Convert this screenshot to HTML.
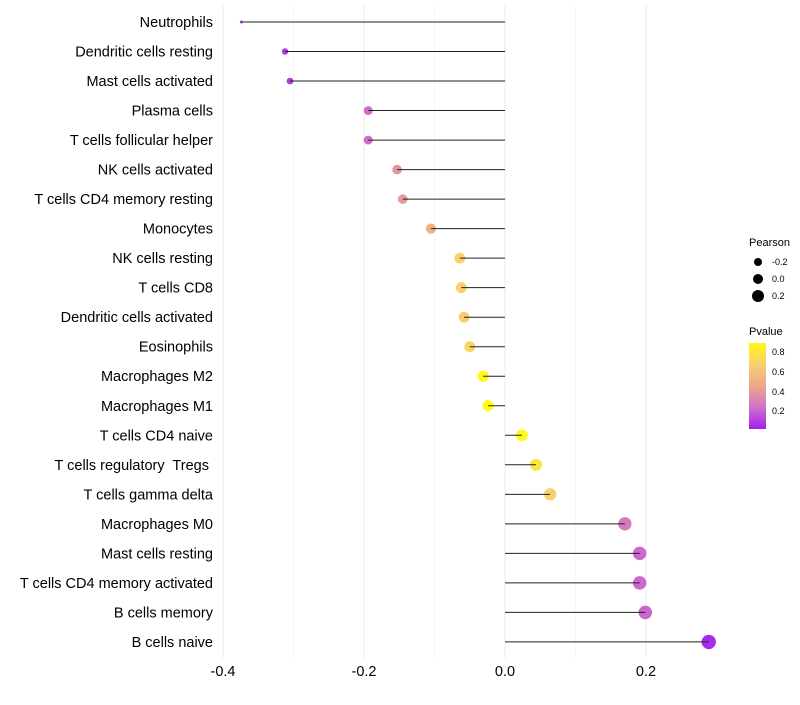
<!DOCTYPE html>
<html><head><meta charset="utf-8"><style>
body{margin:0;background:#fff;font-family:"Liberation Sans",sans-serif}
text{white-space:pre}
</style></head><body>
<svg id="chart" width="800" height="700" xmlns="http://www.w3.org/2000/svg">
<g id="grid"></g><g id="marks"></g><g id="labels"></g><g id="legend"></g>
</svg>
<script>
const categories=["Neutrophils","Dendritic cells resting","Mast cells activated","Plasma cells","T cells follicular helper","NK cells activated","T cells CD4 memory resting","Monocytes","NK cells resting","T cells CD8","Dendritic cells activated","Eosinophils","Macrophages M2","Macrophages M1","T cells CD4 naive","T cells regulatory  Tregs ","T cells gamma delta","Macrophages M0","Mast cells resting","T cells CD4 memory activated","B cells memory","B cells naive"];
const pearson=[-0.374,-0.312,-0.305,-0.194,-0.194,-0.153,-0.145,-0.105,-0.064,-0.062,-0.058,-0.050,-0.031,-0.024,0.024,0.044,0.064,0.170,0.191,0.191,0.199,0.289];
const pvalue=[0.08,0.1,0.1,0.24,0.24,0.38,0.4,0.52,0.68,0.68,0.66,0.7,0.88,0.92,0.9,0.78,0.68,0.28,0.22,0.22,0.22,0.06];
const xTicks=[-0.4,-0.2,0.0,0.2];
const xMinor=[-0.3,-0.1,0.1];
const NS="http://www.w3.org/2000/svg";
const x=v=>505+v*705;
const y=i=>22+i*29.52;
function el(t,a,p){const e=document.createElementNS(NS,t);for(const k in a)e.setAttribute(k,a[k]);document.getElementById(p).appendChild(e);return e;}
function lerp(a,b,t){return a.map((v,i)=>Math.round(v+(b[i]-v)*t));}
function col(p){const t=Math.max(0,Math.min(1,(p-0.027)/(0.89-0.027)));
 const stops=[[160,32,240],[208,112,200],[236,168,140],[248,208,110],[255,250,20]];
 const s=t*(stops.length-1);const i=Math.min(stops.length-2,Math.floor(s));const c=lerp(stops[i],stops[i+1],s-i);return `rgb(${c})`;}
const mn=Math.min(...pearson),mx=Math.max(...pearson);
const rad=v=>1.5+5.7*Math.sqrt((v-mn)/(mx-mn));
xMinor.forEach(v=>{const l=el('line',{x1:x(v),x2:x(v),y1:5,y2:658,stroke:'#f2f2f2','stroke-width':0.6},'grid');

});
xTicks.forEach(v=>{const l=el('line',{x1:x(v),x2:x(v),y1:5,y2:658,stroke:'#ebebeb','stroke-width':1},'grid');


const t=el('text',{x:x(v),y:676,'text-anchor':'middle','font-size':14.5,fill:'#000'},'labels');t.textContent=v===0?'0.0':v.toFixed(1);

});
categories.forEach((c,i)=>{
 const d=el('circle',{cx:x(pearson[i]),cy:y(i),r:rad(pearson[i]),fill:col(pvalue[i])},'marks');
 
 
 const l=el('line',{x1:x(pearson[i]),x2:x(0),y1:y(i),y2:y(i),stroke:'#222','stroke-width':1},'marks');
 
 
 const t=el('text',{x:213,y:y(i)+5,'text-anchor':'end','font-size':14.5,fill:'#000'},'labels');t.textContent=c;
 
 
});
</script>
<svg style="position:absolute;left:0;top:0" width="800" height="700" xmlns="http://www.w3.org/2000/svg">
<defs><linearGradient id="pg" x1="0" y1="1" x2="0" y2="0">
<stop offset="0" stop-color="#a020f0"/><stop offset="0.25" stop-color="#d070c8"/><stop offset="0.5" stop-color="#eca88c"/><stop offset="0.75" stop-color="#f8d070"/><stop offset="1" stop-color="#fff814"/></linearGradient></defs>
<text x="749" y="246" font-size="11">Pearson</text>
<circle cx="758" cy="262" r="4" fill="#000"/>
<text x="772" y="265" font-size="9">-0.2</text>
<circle cx="758" cy="279" r="5" fill="#000"/>
<text x="772" y="282" font-size="9">0.0</text>
<circle cx="758" cy="296" r="6" fill="#000"/>
<text x="772" y="299" font-size="9">0.2</text>
<text x="749" y="335" font-size="11">Pvalue</text>
<rect x="749" y="343" width="17" height="86" fill="url(#pg)"/>
<text x="772" y="355" font-size="9">0.8</text>
<text x="772" y="375" font-size="9">0.6</text>
<text x="772" y="395" font-size="9">0.4</text>
<text x="772" y="414" font-size="9">0.2</text>
</svg>
</body></html>
